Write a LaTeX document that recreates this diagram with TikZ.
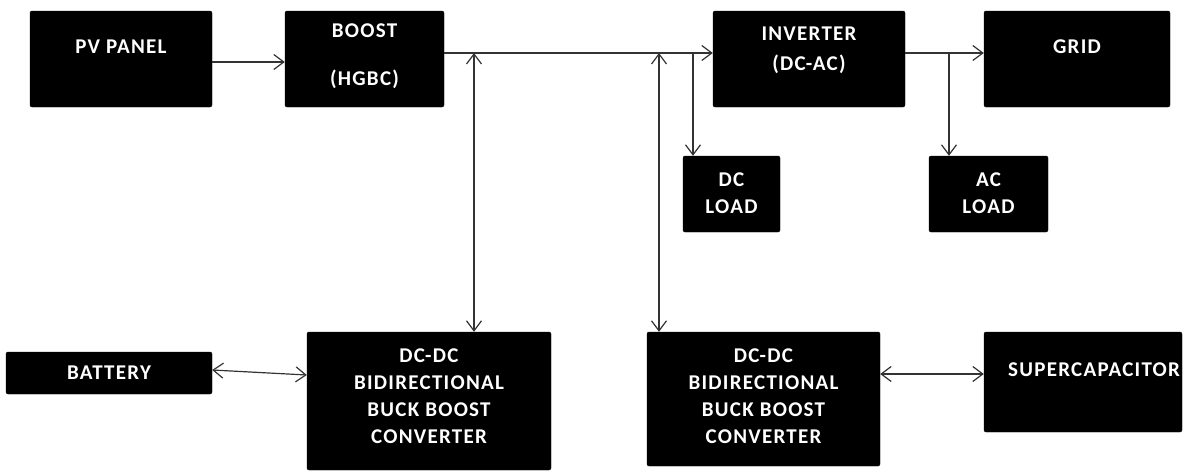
\documentclass[tikz,border=0pt]{standalone}
\usepackage{fontspec}
\setmainfont{Carlito}
\newfontfamily\boxfont[LetterSpace=6]{Carlito}
\usepackage{tikz}
\usetikzlibrary{arrows.meta}
\usetikzlibrary{positioning}

\tikzset{
  block/.style={draw=black, fill=black, rounded corners=2pt, inner sep=0pt},
  lbl/.style={text=white, align=center, inner sep=0pt, font=\boxfont\bfseries\fontsize{21}{27}\selectfont},
  link/.style={draw=black!80, line width=1.2pt, -{Straight Barb[length=10pt,width=15pt]}},
  dbl/.style={draw=black!80, line width=1.2pt, {Straight Barb[length=10pt,width=15pt]}-{Straight Barb[length=10pt,width=15pt]}}
}

\begin{document}
\begin{tikzpicture}[x=1pt, y=-1pt]
\useasboundingbox (0,0) rectangle (1186,472);

% blocks
\node[block, minimum width=182pt, minimum height=96pt] (pv) at (121,59) {};
\node[block, minimum width=159pt, minimum height=96pt] (boost) at (364.5,59) {};
\node[block, minimum width=192pt, minimum height=96pt] (inv) at (809,59) {};
\node[block, minimum width=186pt, minimum height=96pt] (grid) at (1077,59) {};
\node[block, minimum width=97pt, minimum height=76pt] (dcload) at (731.5,194) {};
\node[block, minimum width=119pt, minimum height=76pt] (acload) at (988.5,194) {};
\node[block, minimum width=206pt, minimum height=42pt] (bat) at (109,373) {};
\node[block, minimum width=244pt, minimum height=138pt] (convA) at (429,401) {};
\node[block, minimum width=233pt, minimum height=134pt] (convB) at (763.5,399) {};
\node[block, minimum width=198pt, minimum height=100pt] (scap) at (1083,382) {};

% texts
\node[lbl] (pvtxt) at (121,47) {PV PANEL};
\node[lbl] (boosttxt) at (364.5,56) {BOOST\\[21pt](HGBC)};
\node[lbl] (invtxt) at (809,50) {INVERTER\\[3pt](DC-AC)};
\node[lbl] (gridtxt) at (1077,47) {GRID};
\node[lbl] (dctxt) at (731.5,193) {DC\\LOAD};
\node[lbl] (actxt) at (988.5,193) {AC\\LOAD};
\node[lbl] (battxt) at (109,373) {BATTERY};
\node[lbl] (convAtxt) at (429,396) {DC-DC\\BIDIRECTIONAL\\BUCK BOOST\\CONVERTER};
\node[lbl] (convBtxt) at (763.5,396) {DC-DC\\BIDIRECTIONAL\\BUCK BOOST\\CONVERTER};
\node[lbl, anchor=west] (scaptxt) at (1008,370) {SUPERCAPACITOR};

% bus taps
\coordinate (tapA) at (474,53);
\coordinate (tapB) at (659,53);
\coordinate (tapC) at (693,53);
\coordinate (tapD) at (949,53);

% connectors
\draw[link] ([yshift=-3pt]pv.east) -- ([yshift=-3pt]boost.west);
\draw[link] ([yshift=6pt]boost.east) -- ([yshift=6pt]inv.west);
\draw[link] ([yshift=6pt]inv.east) -- ([yshift=6pt]grid.west);
\draw[dbl] (tapA) -- (tapA |- convA.north);
\draw[dbl] (tapB) -- (tapB |- convB.north);
\draw[link] (tapC) -- (tapC |- dcload.north);
\draw[link] (tapD) -- (tapD |- acload.north);
\draw[dbl] ([yshift=3pt]bat.east) -- ([yshift=26pt]convA.west);
\draw[dbl] ([yshift=25pt]convB.east) -- ([yshift=25pt]convB.east -| scap.west);

\end{tikzpicture}
\end{document}
